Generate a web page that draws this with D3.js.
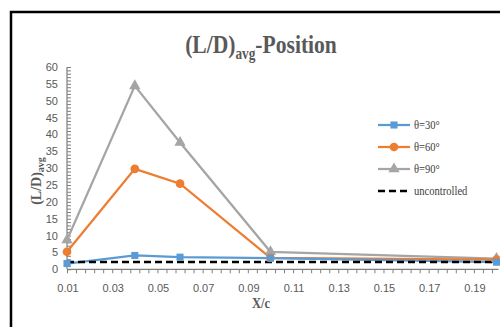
<!DOCTYPE html>
<html>
  <head>
    <meta charset="utf-8">
    <title>(L/D)avg-Position</title>
    <style>
      body { margin: 0; background: #fff; }
      .tick-label { font-family: "Liberation Sans Narrow", "Liberation Sans", Arial, sans-serif; font-size: 11px; fill: #595959; }
      .serif { font-family: "Liberation Serif", "Times New Roman", serif; }
    </style>
  </head>
  <body>
    <div class="chart"></div>
    <script src="https://cdn.jsdelivr.net/npm/d3@7"></script>
    <script>
      // data
      const xPos = [0.01, 0.04, 0.06, 0.10, 0.20];
      const theta30 = [1.7, 4.1, 3.6, 3.3, 2.1];
      const theta60 = [5.2, 29.8, 25.4, 3.4, 2.9];
      const theta90 = [8.7, 54.4, 37.6, 5.2, 3.2];
      const uncontrolled = [2.2, 2.2, 2.2, 2.2, 2.2];
      const seriesNames = ["θ=30°", "θ=60°", "θ=90°", "uncontrolled"];
      const xTicks = [0.01, 0.03, 0.05, 0.07, 0.09, 0.11, 0.13, 0.15, 0.17, 0.19];
      const yTicks = [0, 5, 10, 15, 20, 25, 30, 35, 40, 45, 50, 55, 60];

      const W = 500, H = 327;
      const margin = { top: 67, right: 4, bottom: 58, left: 67 };
      const width = 496.5 - margin.left;
      const height = 269.3 - margin.top;

      const svg = d3.select(".chart").append("svg")
        .attr("width", W).attr("height", H);

      // outer frame
      svg.append("rect")
        .attr("x", 11).attr("y", 12)
        .attr("width", 520).attr("height", 340)
        .attr("fill", "none").attr("stroke", "#000").attr("stroke-width", 2.5);

      const x = d3.scaleLinear().domain([0.01, 0.2]).range([0, width]);
      const y = d3.scaleLinear().domain([0, 60]).range([height, 0]);

      const g = svg.append("g").attr("transform", `translate(${margin.left},${margin.top})`);

      // y axis: ticks inside, minor every 1
      const yAxis = g.append("g")
        .call(d3.axisRight(y).tickValues(d3.range(0, 61, 1)).tickSize(4).tickFormat(""));
      yAxis.select(".domain").remove();
      yAxis.selectAll("line").attr("stroke", "#7f7f7f");
      g.append("line").attr("x1", 0).attr("x2", 0).attr("y1", 0).attr("y2", height)
        .attr("stroke", "#7f7f7f").attr("stroke-width", 1.2);
      g.selectAll(".ylab").data(yTicks).enter().append("text")
        .attr("class", "tick-label")
        .attr("x", -9).attr("y", d => y(d) + 4)
        .attr("text-anchor", "end")
        .text(d => d);

      // x axis: ticks outside, minor every 0.004
      const minor = d3.range(0, 48).map(i => 0.01 + i * 0.004).filter(v => v <= 0.2001);
      const xAxis = g.append("g").attr("transform", `translate(0,${height})`)
        .call(d3.axisBottom(x).tickValues(minor).tickSize(4).tickFormat(""));
      xAxis.select(".domain").remove();
      xAxis.selectAll("line").attr("stroke", "#7f7f7f");
      g.append("line").attr("x1", 0).attr("x2", width + 2).attr("y1", height).attr("y2", height)
        .attr("stroke", "#7f7f7f").attr("stroke-width", 1.2);
      g.selectAll(".xlab").data(xTicks).enter().append("text")
        .attr("class", "tick-label")
        .attr("x", d => x(d) + 1).attr("y", height + 23)
        .attr("text-anchor", "middle")
        .text(d => d.toFixed(2));

      const colors = ["#5B9BD5", "#ED7D31", "#A5A5A5", "#000000"];
      const all = [theta30, theta60, theta90, uncontrolled];
      const line = d3.line().x((d, i) => x(xPos[i])).y(d => y(d));

      // gray first so others sit on top like the picture
      [2, 1, 0].forEach(k => {
        g.append("path").datum(all[k]).attr("d", line)
          .attr("fill", "none").attr("stroke", colors[k]).attr("stroke-width", 2.25);
      });
      g.append("path").datum(uncontrolled).attr("d", line)
        .attr("fill", "none").attr("stroke", "#000").attr("stroke-width", 2.5)
        .attr("stroke-dasharray", "7,4");

      const symbols = [d3.symbolSquare, d3.symbolCircle, d3.symbolTriangle];
      const sizes = [50, 60, 55];
      [2, 1, 0].forEach(k => {
        g.selectAll(null).data(all[k]).enter().append("path")
          .attr("transform", (d, i) => `translate(${x(xPos[i])},${y(d)})`)
          .attr("d", d3.symbol().type(symbols[k]).size(sizes[k]))
          .attr("fill", colors[k]);
      });

      // legend
      const leg = svg.append("g").attr("transform", "translate(378,125)");
      seriesNames.forEach((name, k) => {
        const row = leg.append("g").attr("transform", `translate(0,${k * 22})`);
        const ln = row.append("line").attr("x1", 0).attr("x2", 32).attr("y1", 0).attr("y2", 0)
          .attr("stroke", colors[k]).attr("stroke-width", k === 3 ? 2.5 : 2.25);
        if (k === 3) ln.attr("stroke-dasharray", "7,4");
        else row.append("path").attr("transform", "translate(16,0)")
          .attr("d", d3.symbol().type(symbols[k]).size(sizes[k])).attr("fill", colors[k]);
        row.append("text").attr("class", "serif")
          .attr("transform", "translate(36,4) scale(0.88,1)")
          .attr("font-size", 12).attr("fill", "#404040")
          .text(name);
      });

      // title (text in the picture is a bit condensed)
      const title = svg.append("text").attr("class", "serif")
        .attr("transform", "translate(261,53) scale(0.83,1)").attr("text-anchor", "middle")
        .attr("font-size", 26).attr("font-weight", "bold").attr("fill", "#595959");
      title.append("tspan").text("(L/D)");
      title.append("tspan").attr("font-size", 16).attr("dy", 6).text("avg");
      title.append("tspan").attr("dy", -6).text("-Position");

      // y axis title
      const yt = svg.append("text").attr("class", "serif")
        .attr("transform", "translate(41,181) rotate(-90)")
        .attr("text-anchor", "middle")
        .attr("font-size", 14).attr("font-weight", "bold").attr("fill", "#595959");
      yt.append("tspan").text("(L/D)");
      yt.append("tspan").attr("font-size", 10).attr("dy", 3).text("avg");

      // x axis title
      svg.append("text").attr("class", "serif")
        .attr("transform", "translate(261,308) scale(0.9,1)").attr("text-anchor", "middle")
        .attr("font-size", 14).attr("font-weight", "bold").attr("fill", "#595959")
        .text("X/c");
    </script>
  </body>
</html>
